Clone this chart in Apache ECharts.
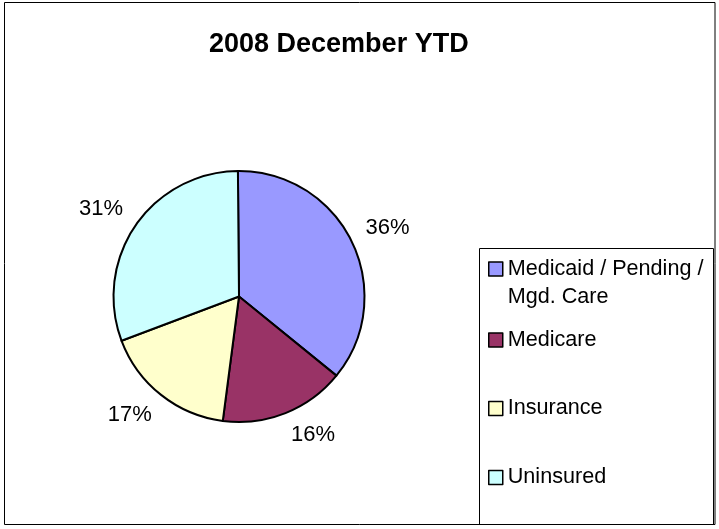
<!DOCTYPE html>
<html>
<head>
<meta charset="utf-8">
<script src="https://cdn.jsdelivr.net/npm/echarts@6/dist/echarts.min.js"></script>
<style>
html,body{margin:0;padding:0;background:#fff;}
#c{width:719px;height:529px;}
</style>
</head>
<body>
<div id="c"></div>
<script>
const titleText = '2008 December YTD';
const categories = ['Medicaid / Pending / Mgd. Care', 'Medicare', 'Insurance', 'Uninsured'];
const shares = [36.0, 16.2, 17.2, 30.6];

const colors = ['#9999FF', '#993366', '#FFFFCC', '#CCFFFF'];
const FONT = '"Liberation Sans", Arial, sans-serif';
const CX = 239, CY = 296.5, R = 125.5;

const chart = echarts.init(document.getElementById('c'), null, {renderer: 'canvas'});

function legendFor(i, top, extra) {
  return Object.assign({
    data: [categories[i]],
    left: 488,
    top: top,
    orient: 'vertical',
    padding: 0,
    itemWidth: 14,
    itemHeight: 14,
    icon: 'rect',
    selectedMode: false,
    itemStyle: {borderColor: '#000', borderWidth: 1.5},
    textStyle: {fontFamily: FONT, fontSize: 21.6, color: '#000', lineHeight: 14}
  }, extra || {});
}

const option = {
  animation: false,
  backgroundColor: '#fff',
  color: colors,
  title: {
    text: titleText,
    left: 209,
    top: 31,
    padding: 0,
    textStyle: {fontFamily: FONT, fontSize: 27, fontWeight: 'bold', color: '#000'}
  },
  legend: [
    legendFor(0, 226.25, {
      formatter: n => '\n' + n.replace(' / Mgd.', ' /\nMgd.'),
      textStyle: {fontFamily: FONT, fontSize: 21.6, color: '#000', lineHeight: 28.5}
    }),
    legendFor(1, 329),
    legendFor(2, 397.5),
    legendFor(3, 466.5)
  ],
  graphic: [
    {type: 'rect', silent: true, z: -1, shape: {x: 4.5, y: 2.5, width: 710.5, height: 522}, style: {fill: 'none', stroke: '#000', lineWidth: 1}},
    {type: 'rect', silent: true, z: -1, shape: {x: 479.5, y: 248.5, width: 234, height: 276}, style: {fill: 'none', stroke: '#000', lineWidth: 1}}
  ],
  series: [{
    type: 'pie',
    center: [CX, CY],
    radius: R,
    startAngle: 90.5,
    clockwise: true,
    avoidLabelOverlap: false,
    emphasis: {disabled: true},
    itemStyle: {borderColor: '#000', borderWidth: 2},
    label: {
      show: true,
      position: 'outside',
      fontFamily: FONT,
      fontSize: 22,
      color: '#000',
      lineHeight: 16,
      distanceToLabelLine: 0,
      formatter: p => Math.round(p.percent) + '%'
    },
    labelLine: {show: false, length: 15, length2: 0},
    labelLayout: function (params) {
      const r = params.labelRect;
      const cy = r.y + r.height / 2;
      return {verticalAlign: cy < CY ? 'bottom' : 'top'};
    },
    data: categories.map((n, i) => ({name: n, value: shares[i]}))
  }]
};
chart.setOption(option);
</script>
</body>
</html>
